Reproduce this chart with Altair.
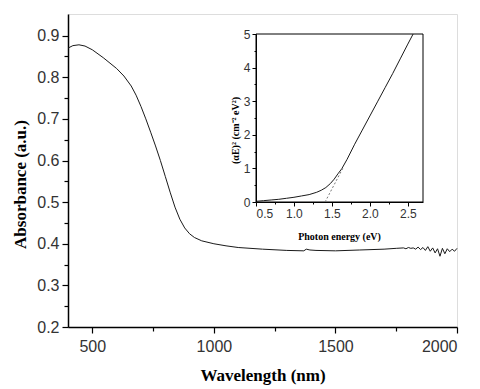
import altair as alt
import pandas as pd

# Main spectrum: wavelength (nm) vs absorbance (a.u.)
wavelength = [400, 420, 445, 470, 500, 545, 600, 630, 660, 680, 700, 720, 740, 760, 780,
              800, 820, 840, 860, 880, 900, 920, 950, 1000, 1050, 1100, 1200, 1300, 1370,
              1380, 1395, 1420, 1500, 1600, 1700, 1750, 1780, 1790, 1800, 1810, 1820, 1830,
              1840, 1850, 1860, 1870, 1880, 1890, 1900, 1910, 1920, 1930, 1940, 1950, 1960,
              1970, 1980, 1990, 2000]
absorbance = [0.870, 0.876, 0.878, 0.875, 0.866, 0.847, 0.821, 0.803, 0.779, 0.757, 0.730,
              0.700, 0.668, 0.635, 0.600, 0.562, 0.524, 0.488, 0.459, 0.438, 0.424, 0.415,
              0.407, 0.400, 0.395, 0.391, 0.387, 0.384, 0.383, 0.387, 0.385, 0.384, 0.383,
              0.385, 0.387, 0.389, 0.390, 0.388, 0.391, 0.389, 0.390, 0.387, 0.392, 0.386,
              0.391, 0.384, 0.393, 0.382, 0.390, 0.378, 0.388, 0.370, 0.389, 0.376, 0.388,
              0.381, 0.387, 0.382, 0.389]

# Inset: Tauc plot
energy = [0.50, 0.60, 0.70, 0.80, 0.90, 1.00, 1.10, 1.20, 1.30, 1.36, 1.42, 1.48, 1.53,
          1.58, 1.63, 1.70, 1.80, 1.90, 2.00, 2.10, 2.20, 2.30, 2.40, 2.50, 2.57]
tauc = [0.02, 0.04, 0.06, 0.08, 0.11, 0.14, 0.18, 0.22, 0.29, 0.35, 0.43, 0.55, 0.68,
        0.84, 0.99, 1.27, 1.72, 2.14, 2.56, 2.98, 3.40, 3.82, 4.26, 4.70, 5.00]
fit_energy = [1.41, 1.65]
fit_value = [0.0, 1.03]
inset_box_x = [0.5, 2.7]
inset_box_y = [0.0, 5.0]

main_df = pd.DataFrame({"wl": wavelength, "abs": absorbance})
tauc_df = pd.DataFrame({"eV": energy, "v": tauc})
fit_df = pd.DataFrame({"eV": fit_energy, "v": fit_value})
box_df = pd.DataFrame({"x1": [inset_box_x[0]], "x2": [inset_box_x[1]],
                       "y1": [inset_box_y[0]], "y2": [inset_box_y[1]]})

W, H = 389, 313
SANS = "Liberation Sans"
SERIF = "Liberation Serif"

x_main_ticks = [500, 750, 1000, 1250, 1500, 1750, 2000]
y_main_ticks = [round(0.2 + 0.05 * i, 2) for i in range(15)]

main = alt.Chart(main_df).mark_line(color="#1a1a1a", strokeWidth=1).encode(
    x=alt.X("wl:Q", scale=alt.Scale(domain=[400, 2000], nice=False, zero=False),
            axis=alt.Axis(values=x_main_ticks, grid=False, title="Wavelength (nm)", orient="bottom",
                          labelExpr="datum.value % 500 === 0 ? datum.label : ''",
                          format="d", labelFont=SANS, labelFontSize=16, labelColor="#333",
                          labelPadding=5, domainColor="#000", domainWidth=1.5,
                          tickColor="#000", tickWidth=1.2,
                          tickSize={"condition": {"test": "datum.value % 500 === 0", "value": 6}, "value": 4},
                          titleFont=SERIF, titleFontSize=17, titleFontWeight="bold",
                          titleColor="#000", titleBaseline="alphabetic", titleY=53)),
    y=alt.Y("abs:Q", scale=alt.Scale(domain=[0.2, 0.952], nice=False, zero=False),
            axis=alt.Axis(values=y_main_ticks, grid=False, title="Absorbance (a.u.)", orient="left",
                          labelExpr="abs(datum.value*10 - round(datum.value*10)) < 0.000001 ? format(datum.value, '.1f') : ''",
                          labelFont=SANS, labelFontSize=16, labelColor="#333", labelPadding=3,
                          domainColor="#000", domainWidth=1.5, tickColor="#000", tickWidth=1.2,
                          tickSize={"condition": {"test": "abs(datum.value*10 - round(datum.value*10)) < 0.000001", "value": 6}, "value": 4},
                          titleFont=SERIF, titleFontSize=17, titleFontWeight="bold",
                          titleColor="#000", titleBaseline="alphabetic", titleX=-43, titleY=170)),
)

ix_scale = alt.Scale(domain=inset_box_x, range=[188, 355], nice=False, zero=False)
iy_scale = alt.Scale(domain=inset_box_y, range=[188, 20], nice=False, zero=False)
ix_ticks = [0.5, 0.75, 1.0, 1.25, 1.5, 1.75, 2.0, 2.25, 2.5]
iy_ticks = [0, 0.5, 1, 1.5, 2, 2.5, 3, 3.5, 4, 4.5, 5]

ix_axis = alt.Axis(values=ix_ticks, grid=False, title="Photon energy (eV)", orient="bottom",
                   offset=-125, zindex=2,
                   labelExpr="abs(datum.value*2 - round(datum.value*2)) < 0.000001 ? format(datum.value, '.1f') : ''",
                   labelFont=SANS, labelFontSize=12, labelColor="#333", labelPadding=2,
                   domainColor="#000", domainWidth=1, tickColor="#000", tickWidth=1,
                   tickSize={"condition": {"test": "abs(datum.value*2 - round(datum.value*2)) < 0.000001", "value": 4}, "value": 2},
                   titleFont=SERIF, titleFontSize=10, titleFontWeight="bold", titleColor="#000",
                   titleBaseline="alphabetic", titleY=37, titleX=271)
iy_axis = alt.Axis(values=iy_ticks, grid=False, title="(αE)² (cm⁻² eV²)", orient="left",
                   offset=-188, zindex=2,
                   labelExpr="datum.value % 1 === 0 ? format(datum.value, 'd') : ''",
                   labelFont=SANS, labelFontSize=12, labelColor="#333", labelPadding=2,
                   domainColor="#000", domainWidth=1, tickColor="#000", tickWidth=1,
                   tickSize={"condition": {"test": "datum.value % 1 === 0", "value": 4}, "value": 2},
                   titleFont=SERIF, titleFontSize=10, titleFontWeight="bold", titleColor="#000",
                   titleBaseline="alphabetic", titleX=-18, titleY=116)

box = alt.Chart(box_df).mark_rect(fill="white", stroke="#000", strokeWidth=1).encode(
    x=alt.X("x1:Q", scale=ix_scale, axis=ix_axis, title="Photon energy (eV)"),
    x2="x2:Q",
    y=alt.Y("y1:Q", scale=iy_scale, axis=iy_axis, title="(αE)² (cm⁻² eV²)"),
    y2="y2:Q",
)
curve = alt.Chart(tauc_df).mark_line(color="#1a1a1a", strokeWidth=1).encode(
    x=alt.X("eV:Q", scale=ix_scale, axis=ix_axis, title="Photon energy (eV)"),
    y=alt.Y("v:Q", scale=iy_scale, axis=iy_axis, title="(αE)² (cm⁻² eV²)"),
)
fit = alt.Chart(fit_df).mark_line(color="#777", strokeWidth=1, strokeDash=[2, 2]).encode(
    x=alt.X("eV:Q", scale=ix_scale, axis=ix_axis, title="Photon energy (eV)"),
    y=alt.Y("v:Q", scale=iy_scale, axis=iy_axis, title="(αE)² (cm⁻² eV²)"),
)
inset = alt.layer(box, curve, fit)

chart = alt.layer(main, inset).resolve_scale(x="independent", y="independent").resolve_axis(
    x="independent", y="independent"
).properties(
    width=W, height=H,
    autosize=alt.AutoSizeParams(type="none"),
    padding={"left": 60, "top": 6, "right": 10, "bottom": 62},
).configure_view(stroke="#000", strokeWidth=1.5).configure(background="white")

chart.save("out.html", embed_options={"renderer": "svg", "actions": False})
